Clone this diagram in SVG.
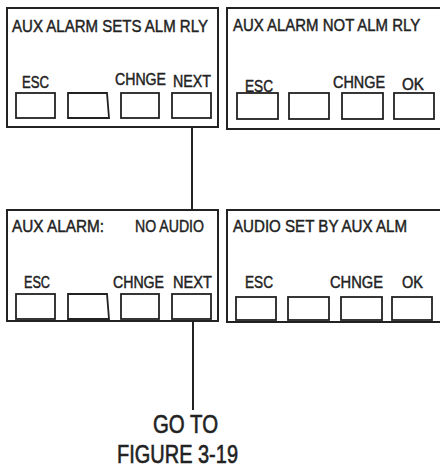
<svg xmlns="http://www.w3.org/2000/svg" width="440" height="472" viewBox="0 0 440 472">
<style>
.box{fill:none;stroke:#222;stroke-width:2}
.btn{fill:none;stroke:#222;stroke-width:1.8}
.t,.l,.big{font-family:"Liberation Sans Narrow","Liberation Sans",Arial,sans-serif;fill:#222;stroke:#222;stroke-width:0.45}
.t{font-size:17px}
.l{font-size:16px}
.big{font-size:25px;stroke-width:0.6}
.c{stroke:#222;stroke-width:2;fill:none}
</style>
<rect width="440" height="472" fill="#fff"/>
<g id="connectors">
<line class="c" x1="192" y1="127" x2="192" y2="210"/>
<line class="c" x1="193" y1="321" x2="193" y2="410"/>
</g>
<g id="node1">
<rect class="box" x="7" y="8" width="211" height="119"/>
<text class="t" x="12" y="32" textLength="196" lengthAdjust="spacingAndGlyphs">AUX ALARM SETS ALM RLY</text>
<text class="l" x="22" y="88" textLength="27" lengthAdjust="spacingAndGlyphs">ESC</text>
<text class="l" x="115" y="85" textLength="51" lengthAdjust="spacingAndGlyphs">CHNGE</text>
<text class="l" x="173" y="87" textLength="38" lengthAdjust="spacingAndGlyphs">NEXT</text>
<rect class="btn" x="16" y="93" width="39" height="25"/>
<polygon class="btn" points="68,93 107,93 109,118 68,118"/>
<rect class="btn" x="121" y="93" width="38" height="25"/>
<rect class="btn" x="172" y="93" width="39" height="25"/>
</g>
<g id="node2">
<path class="box" d="M440,8 H227 V129 H440"/>
<text class="t" transform="translate(233,31) scale(0.88,1)" x="0" y="0">AUX ALARM NOT ALM RLY</text>
<text class="l" x="245" y="92" textLength="28" lengthAdjust="spacingAndGlyphs">ESC</text>
<text class="l" x="333" y="88" textLength="52" lengthAdjust="spacingAndGlyphs">CHNGE</text>
<text class="l" x="402" y="90" textLength="22" lengthAdjust="spacingAndGlyphs">OK</text>
<rect class="btn" x="237" y="93" width="41" height="26"/>
<rect class="btn" x="289" y="93" width="40" height="26"/>
<rect class="btn" x="342" y="93" width="41" height="26"/>
<rect class="btn" x="394" y="93" width="40" height="26"/>
</g>
<g id="node3">
<rect class="box" x="7" y="210" width="211" height="111"/>
<text class="t" x="12" y="232" textLength="92" lengthAdjust="spacingAndGlyphs">AUX ALARM:</text>
<text class="t" x="135" y="232" textLength="69" lengthAdjust="spacingAndGlyphs">NO AUDIO</text>
<text class="l" x="24" y="288" textLength="26" lengthAdjust="spacingAndGlyphs">ESC</text>
<text class="l" x="113" y="288" textLength="51" lengthAdjust="spacingAndGlyphs">CHNGE</text>
<text class="l" x="173" y="288" textLength="39" lengthAdjust="spacingAndGlyphs">NEXT</text>
<rect class="btn" x="16" y="294" width="39" height="25"/>
<polygon class="btn" points="68,294 107,294 109,319 68,319"/>
<rect class="btn" x="121" y="294" width="38" height="25"/>
<rect class="btn" x="172" y="294" width="39" height="25"/>
</g>
<g id="node4">
<path class="box" d="M440,210 H227 V322 H440"/>
<text class="t" x="233" y="232" textLength="174" lengthAdjust="spacingAndGlyphs">AUDIO SET BY AUX ALM</text>
<text class="l" x="245" y="288" textLength="28" lengthAdjust="spacingAndGlyphs">ESC</text>
<text class="l" x="330" y="288" textLength="53" lengthAdjust="spacingAndGlyphs">CHNGE</text>
<text class="l" x="402" y="288" textLength="21" lengthAdjust="spacingAndGlyphs">OK</text>
<rect class="btn" x="236" y="297" width="40" height="23"/>
<rect class="btn" x="288" y="297" width="41" height="23"/>
<rect class="btn" x="341" y="297" width="41" height="23"/>
<rect class="btn" x="392" y="297" width="40" height="23"/>
</g>
<g id="goto">
<text class="big" x="153" y="433" textLength="65" lengthAdjust="spacingAndGlyphs">GO TO</text>
<text class="big" x="117" y="463" textLength="121" lengthAdjust="spacingAndGlyphs">FIGURE 3-19</text>
</g>
</svg>
